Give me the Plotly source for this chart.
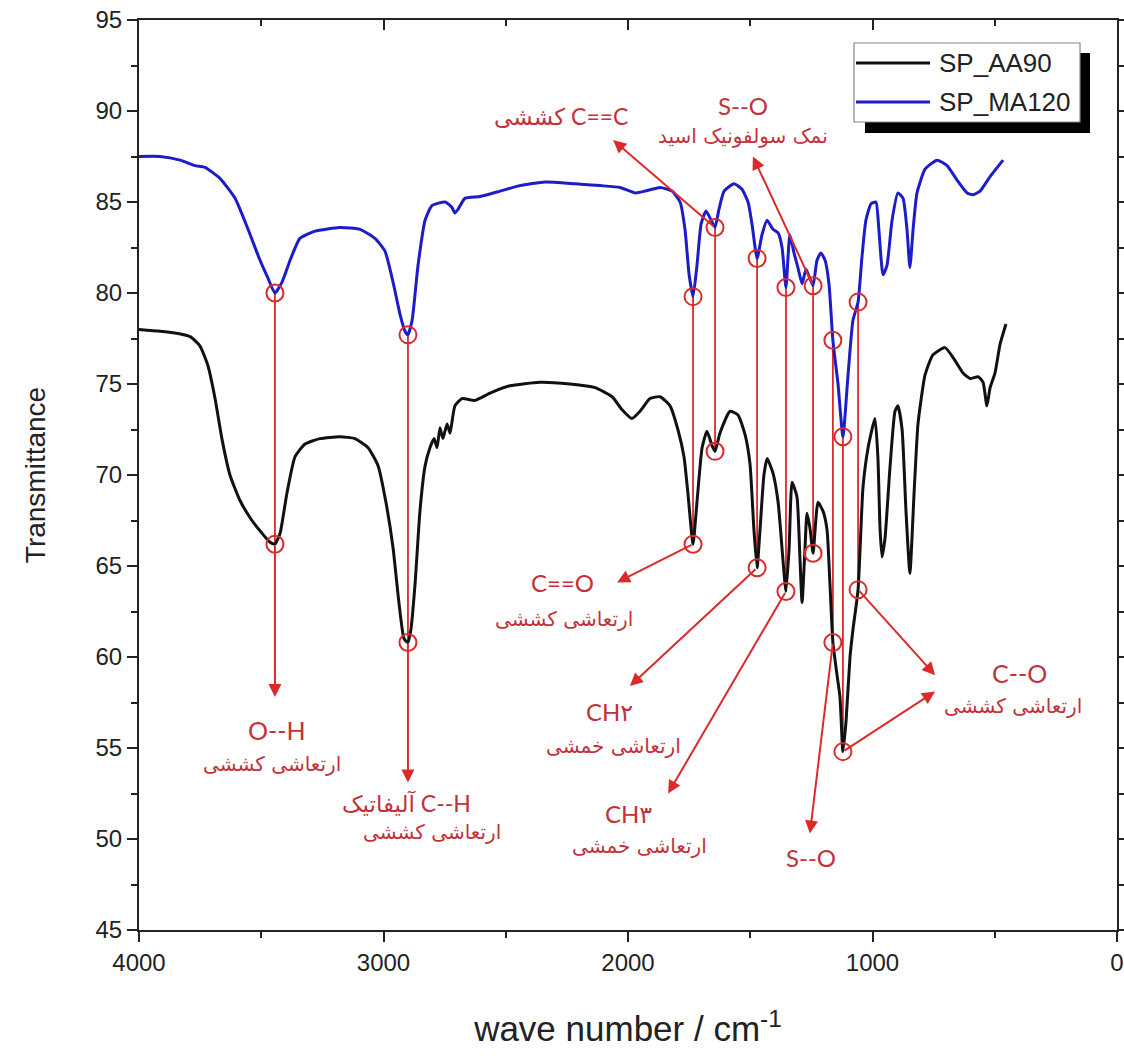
import plotly.graph_objects as go

# FTIR spectra: wave number (cm-1) and transmittance
aa90_wn = [4000, 3914, 3853, 3791, 3751, 3718, 3689, 3661, 3628, 3587, 3538, 3497, 3464, 3444,
           3423, 3395, 3362, 3321, 3260, 3178, 3117, 3063, 3022, 2990, 2961, 2937, 2916, 2900,
           2888, 2871, 2851, 2830, 2810, 2793, 2781, 2769, 2757, 2740, 2728, 2708, 2679, 2626,
           2564, 2483, 2360, 2237, 2135, 2065, 2025, 1984, 1951, 1910, 1869, 1828, 1796, 1771,
           1755, 1734, 1718, 1697, 1677, 1656, 1644, 1624, 1583, 1550, 1521, 1501, 1485, 1472,
           1460, 1444, 1431, 1407, 1386, 1366, 1354, 1341, 1329, 1309, 1297, 1288, 1276, 1268,
           1256, 1243, 1223, 1202, 1186, 1174, 1162, 1145, 1133, 1121, 1108, 1092, 1080, 1059,
           1039, 1018, 990, 978, 969, 961, 949, 928, 908, 896, 879, 863, 847, 830, 814, 785,
           753, 703, 663, 630, 601, 568, 548, 532, 519, 499, 478, 454]
aa90_t = [78.0, 77.9, 77.8, 77.6, 77.1, 76.0, 74.2, 72.0, 70.0, 68.6, 67.5, 66.8, 66.3, 66.2,
          66.8, 69.0, 71.0, 71.7, 72.0, 72.1, 72.0, 71.5, 70.5, 68.5, 66.0, 63.0, 61.0, 60.8,
          61.5, 64.0, 68.0, 70.5, 71.5, 72.0, 71.5, 72.6, 72.0, 72.8, 72.3, 73.8, 74.2, 74.1,
          74.5, 74.9, 75.1, 75.0, 74.8, 74.3, 73.6, 73.1, 73.5, 74.2, 74.3, 73.8, 72.5, 71.0,
          69.0, 66.2, 68.5, 71.5, 72.4, 71.6, 71.3, 72.3, 73.5, 73.3, 72.2, 70.6, 67.0, 64.9,
          67.0, 70.0, 70.9, 70.1, 68.5, 65.3, 63.6, 66.0, 69.6, 68.8, 65.5, 63.0, 66.0, 67.9,
          67.1, 65.7, 68.5, 68.0, 67.0, 64.0, 60.8, 59.0, 57.8, 54.8, 56.5, 60.0, 61.5, 63.7,
          69.3, 71.5, 73.1, 71.0, 67.0, 65.5, 66.5, 70.5, 73.5, 73.8, 72.5, 68.0, 64.6, 69.0,
          72.8, 75.5, 76.6, 77.0, 76.3, 75.6, 75.3, 75.4, 75.1, 73.8, 74.8, 75.6, 77.2, 78.3]

ma120_wn = [4000, 3914, 3832, 3771, 3730, 3669, 3607, 3554, 3505, 3472, 3444, 3415, 3382, 3342,
            3280, 3178, 3096, 3035, 2994, 2961, 2932, 2912, 2900, 2883, 2859, 2830, 2802, 2748,
            2720, 2708, 2695, 2667, 2605, 2523, 2442, 2339, 2217, 2115, 2033, 1971, 1930, 1869,
            1820, 1787, 1767, 1750, 1734, 1718, 1701, 1681, 1660, 1644, 1628, 1607, 1566, 1534,
            1509, 1493, 1472, 1452, 1431, 1407, 1386, 1370, 1354, 1338, 1321, 1305, 1288, 1272,
            1256, 1243, 1227, 1211, 1194, 1178, 1162, 1141, 1121, 1100, 1080, 1059, 1043, 1027,
            1006, 986, 974, 957, 941, 920, 896, 875, 859, 847, 834, 818, 785, 736, 695, 654,
            613, 589, 560, 519, 466]
ma120_t = [87.5, 87.5, 87.3, 87.0, 86.9, 86.3, 85.2, 83.5, 81.8, 80.8, 80.0, 80.6, 81.8, 83.0,
           83.4, 83.6, 83.5, 83.0, 82.3, 80.6, 78.8, 77.9, 77.7, 78.5, 81.5, 84.0, 84.8, 85.0,
           84.7, 84.4, 84.6, 85.2, 85.3, 85.6, 85.9, 86.1, 86.0, 85.9, 85.8, 85.5, 85.6, 85.8,
           85.6, 85.0, 83.5, 81.0, 79.8, 81.5, 83.8, 84.5, 84.0, 83.6, 84.6, 85.6, 86.0, 85.7,
           85.0, 83.8, 81.9, 83.2, 84.0, 83.5, 83.3, 82.5, 80.3, 83.2, 82.2, 81.4, 80.5, 81.3,
           80.8, 80.4, 81.8, 82.2, 81.8, 80.5, 77.4, 75.0, 72.1, 75.5, 78.5, 79.5, 82.0, 84.0,
           84.9, 85.0, 83.5, 81.0, 81.5, 84.0, 85.5, 85.2, 83.5, 81.4, 83.5, 85.5, 86.8, 87.3,
           87.0, 86.2, 85.5, 85.4, 85.6, 86.4, 87.3]

# Marked bands (circled on both spectra)
band_wn = [3444, 2900, 1734, 1644, 1472, 1354, 1243, 1162, 1121, 1059]
band_ma120_t = [80.0, 77.7, 79.8, 83.6, 81.9, 80.3, 80.4, 77.4, 72.1, 79.5]
band_aa90_t = [66.2, 60.8, 66.2, 71.3, 64.9, 63.6, 65.7, 60.8, 54.8, 63.7]

series_names = ["SP_AA90", "SP_MA120"]
series_colors = ["#111111", "#1c1cc8"]

x_ticks = [4000, 3000, 2000, 1000, 0]
y_ticks = [45, 50, 55, 60, 65, 70, 75, 80, 85, 90, 95]

RED_LINE = "#dc2a2a"
RED_TEXT = "#c3313a"
LATIN_FONT = "Lato, 'DejaVu Sans', sans-serif"
FA_FONT = "'DejaVu Sans', sans-serif"
ARIAL = "Arial, 'Liberation Sans', sans-serif"

fig = go.Figure()

# vertical connectors between the circled bands of the two spectra
vx, vy = [], []
for w, tb, tk in zip(band_wn, band_ma120_t, band_aa90_t):
    vx += [w, w, None]
    vy += [tb, tk, None]
fig.add_trace(go.Scatter(x=vx, y=vy, mode="lines", line=dict(color=RED_LINE, width=1.8),
                         showlegend=False, hoverinfo="skip"))

fig.add_trace(go.Scatter(x=aa90_wn, y=aa90_t, mode="lines", name=series_names[0],
                         line=dict(color=series_colors[0], width=3, shape="spline", smoothing=0.5),
                         showlegend=False))
fig.add_trace(go.Scatter(x=ma120_wn, y=ma120_t, mode="lines", name=series_names[1],
                         line=dict(color=series_colors[1], width=3, shape="spline", smoothing=0.5),
                         showlegend=False))

# open circles on the marked bands
fig.add_trace(go.Scatter(x=band_wn + band_wn, y=band_ma120_t + band_aa90_t, mode="markers",
                         marker=dict(symbol="circle-open", size=17, color=RED_LINE,
                                     line=dict(width=2, color=RED_LINE)),
                         showlegend=False, hoverinfo="skip"))

# empty trace on the top axis so its inward ticks are drawn
fig.add_trace(go.Scatter(x=[None], y=[None], xaxis="x2", yaxis="y", showlegend=False,
                         hoverinfo="skip"))

# arrows: (tail wn, tail T) -> (head wn, head T)
arrows = [
    (3444, 66.2, 3444, 57.8),
    (2900, 60.8, 2900, 53.1),
    (1644, 83.6, 2061, 88.4),
    (1243, 80.4, 1489, 87.5),
    (1734, 66.2, 2045, 64.1),
    (1472, 64.9, 1992, 58.4),
    (1354, 63.6, 1836, 52.5),
    (1162, 60.8, 1256, 50.3),
    (1059, 63.7, 744, 59.0),
    (1121, 54.8, 744, 58.1),
]
for tx, ty, hx, hy in arrows:
    fig.add_annotation(x=hx, y=hy, ax=tx, ay=ty, xref="x", yref="y", axref="x", ayref="y",
                       text="", showarrow=True, arrowhead=2, arrowsize=1.3, arrowwidth=2,
                       arrowcolor=RED_LINE, standoff=0, startstandoff=0)

# band labels: (wn, T, text, size, font)
labels = [
    (2274, 89.7, "کششی C==C", 23, LATIN_FONT),
    (1530, 90.3, "S--O", 24, LATIN_FONT),
    (1530, 88.6, "نمک سولفونیک اسید", 20, FA_FONT),
    (2266, 64.1, "C==O", 24, LATIN_FONT),
    (2262, 62.1, "ارتعاشی کششی", 20, FA_FONT),
    (2074, 57.0, "CH۲", 24, LATIN_FONT),
    (2061, 55.1, "ارتعاشی خمشی", 20, FA_FONT),
    (2000, 51.4, "CH۳", 24, LATIN_FONT),
    (1951, 49.6, "ارتعاشی خمشی", 20, FA_FONT),
    (3436, 56.0, "O--H", 25, LATIN_FONT),
    (3456, 54.1, "ارتعاشی کششی", 20, FA_FONT),
    (2904, 52.0, "آلیفاتیک C--H", 23, LATIN_FONT),
    (2800, 50.4, "ارتعاشی کششی", 20, FA_FONT),
    (1252, 49.0, "S--O", 24, LATIN_FONT),
    (397, 59.1, "C--O", 25, LATIN_FONT),
    (425, 57.3, "ارتعاشی کششی", 20, FA_FONT),
]
for x, y, t, s, f in labels:
    fig.add_annotation(x=x, y=y, xref="x", yref="y", text=t, showarrow=False,
                       font=dict(family=f, size=s, color=RED_TEXT),
                       xanchor="center", yanchor="middle")

# legend box with drop shadow (paper coordinates of the 1124x1056 page)
PL, PR, PT, PB = 139, 1117, 20, 930


def px(xp):
    return (xp - PL) / (PR - PL)


def py(yp):
    return (PB - yp) / (PB - PT)


fig.add_shape(type="rect", xref="paper", yref="paper", x0=px(865), x1=px(1090),
              y0=py(133), y1=py(53), fillcolor="black", line=dict(width=0), layer="above")
fig.add_shape(type="rect", xref="paper", yref="paper", x0=px(854), x1=px(1080),
              y0=py(122), y1=py(43), fillcolor="white", line=dict(width=1.2, color="#888"),
              layer="above")
for i, (name, col) in enumerate(zip(series_names, series_colors)):
    yrow = 63 + 39 * i
    fig.add_shape(type="line", xref="paper", yref="paper", x0=px(856), x1=px(930),
                  y0=py(yrow), y1=py(yrow), line=dict(color=col, width=3), layer="above")
    fig.add_annotation(x=px(937), y=py(yrow), xref="paper", yref="paper", text=name,
                       showarrow=False, xanchor="left", yanchor="middle",
                       font=dict(family=ARIAL, size=26, color="#222"))

tick_common = dict(ticklen=10, tickwidth=2, tickcolor="#222", showgrid=False, zeroline=False)
fig.update_layout(
    width=1124, height=1056,
    margin=dict(l=PL, r=1124 - PR, t=PT, b=1056 - PB, autoexpand=False),
    paper_bgcolor="white", plot_bgcolor="white",
    showlegend=False,
    xaxis=dict(range=[4000, 0], tickvals=x_ticks, ticktext=[str(v) for v in x_ticks],
               ticks="outside", minor=dict(dtick=500, ticks="outside", ticklen=6, tickwidth=2,
                                           tickcolor="#222"),
               showline=True, linewidth=2, linecolor="#222", mirror=True, automargin=False,
               tickfont=dict(family=ARIAL, size=24, color="#222"),
               title=dict(text="wave number / cm<sup>-1</sup>", standoff=42,
                          font=dict(family=ARIAL, size=35, color="#222")),
               **tick_common),
    xaxis2=dict(range=[4000, 0], overlaying="x", side="top", anchor="y", tickvals=x_ticks,
                ticks="inside", showticklabels=False, showline=False, automargin=False,
                minor=dict(dtick=500, ticks="inside", ticklen=6, tickwidth=2, tickcolor="#222"),
                **tick_common),
    yaxis=dict(range=[45, 95], tickvals=y_ticks, ticks="outside",
               minor=dict(dtick=2.5, ticks="outside", ticklen=6, tickwidth=2, tickcolor="#222"),
               showline=True, linewidth=2, linecolor="#222", mirror="ticks", automargin=False,
               tickfont=dict(family=ARIAL, size=24, color="#222"),
               title=dict(text="Transmittance", standoff=42,
                          font=dict(family="'Liberation Sans Narrow', Arial, sans-serif",
                                    size=28, color="#222")),
               **tick_common),
)

fig.write_html("out.html")
